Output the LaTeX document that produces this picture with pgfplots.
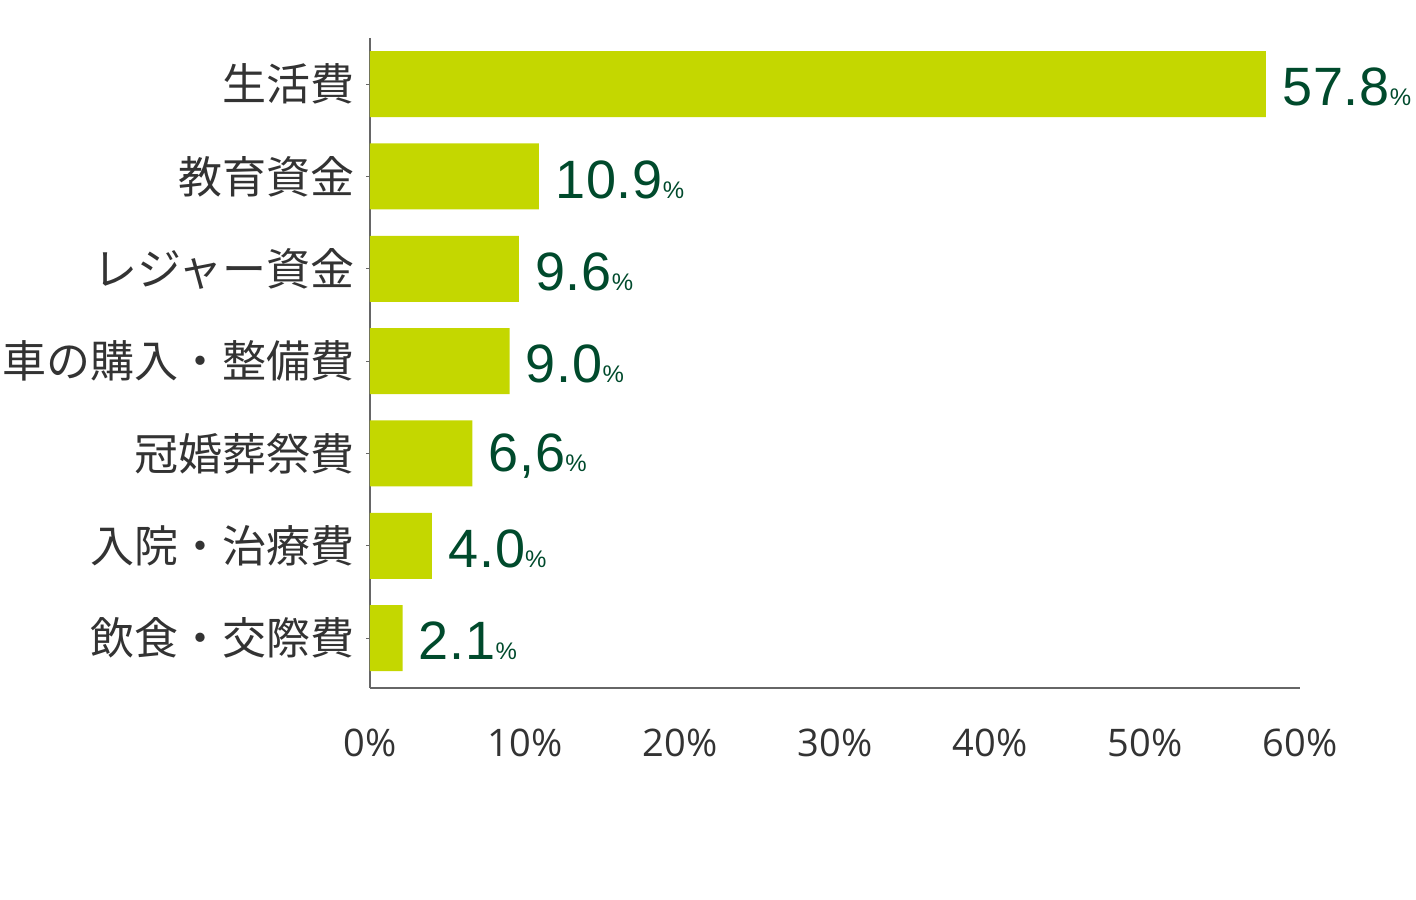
\documentclass[border=0pt]{standalone}
\usepackage{pgfplots}
\pgfplotsset{compat=1.18}
\usepackage{pgfplotstable}
\usepackage{fontspec}
\setmainfont{Open Sans}
\newfontfamily\cjk{Noto Sans CJK JP}
\newfontfamily\valfont[LetterSpace=1.5]{Liberation Sans}
\newfontfamily\pctfont{Liberation Sans}
\definecolor{barc}{HTML}{C4D700}
\definecolor{valc}{HTML}{004A2C}
\definecolor{txtc}{HTML}{333333}
\definecolor{axc}{HTML}{666666}
\pgfplotstableread{
x y lab
57.8 0 57.8
10.9 1 10.9
9.6 2 9.6
9.0 3 9.0
6.6 4 6,6
4.0 5 4.0
2.1 6 2.1
}\datatab
\begin{document}
\begin{tikzpicture}
\useasboundingbox (-185pt,-105.5pt) rectangle (523pt,344pt);
\begin{axis}[
  scale only axis, width=465pt, height=325pt,
  anchor=south west,
  xbar, bar width=33pt, bar shift=0pt,
  y dir=reverse,
  xmin=0, xmax=60, ymin=-0.5, ymax=6.54,
  axis x line*=bottom, axis y line*=left,
  axis line style={draw=axc, line width=0.7pt},
  xtick={0,10,20,30,40,50,60},
  xticklabels={0\%,10\%,20\%,30\%,40\%,50\%,60\%},
  x tick style={draw=none},
  xticklabel style={font=\fontsize{19}{19}\selectfont, text=txtc, yshift=-15pt},
  ytick={0,1,2,3,4,5,6},
  yticklabels={生活費,教育資金,レジャー資金,車の購入・整備費,冠婚葬祭費,入院・治療費,飲食・交際費},
  yticklabel style={font=\cjk\fontsize{22}{22}\selectfont, text=txtc, xshift=-2pt},
  y tick style={draw=axc, line width=0.5pt},
  tick align=outside, major tick length=2pt,
  point meta=explicit symbolic,
  nodes near coords={{\valfont\fontsize{27}{27}\selectfont\pgfplotspointmeta}{\pctfont\fontsize{12}{12}\selectfont\%}},
  nodes near coords style={anchor=west, text=valc, xshift=6pt, yshift=-1.5pt, inner xsep=2pt},
  clip=false,
]
\addplot[fill=barc, draw=none] table[x=x, y=y, meta=lab] {\datatab};
\end{axis}
\end{tikzpicture}
\end{document}
